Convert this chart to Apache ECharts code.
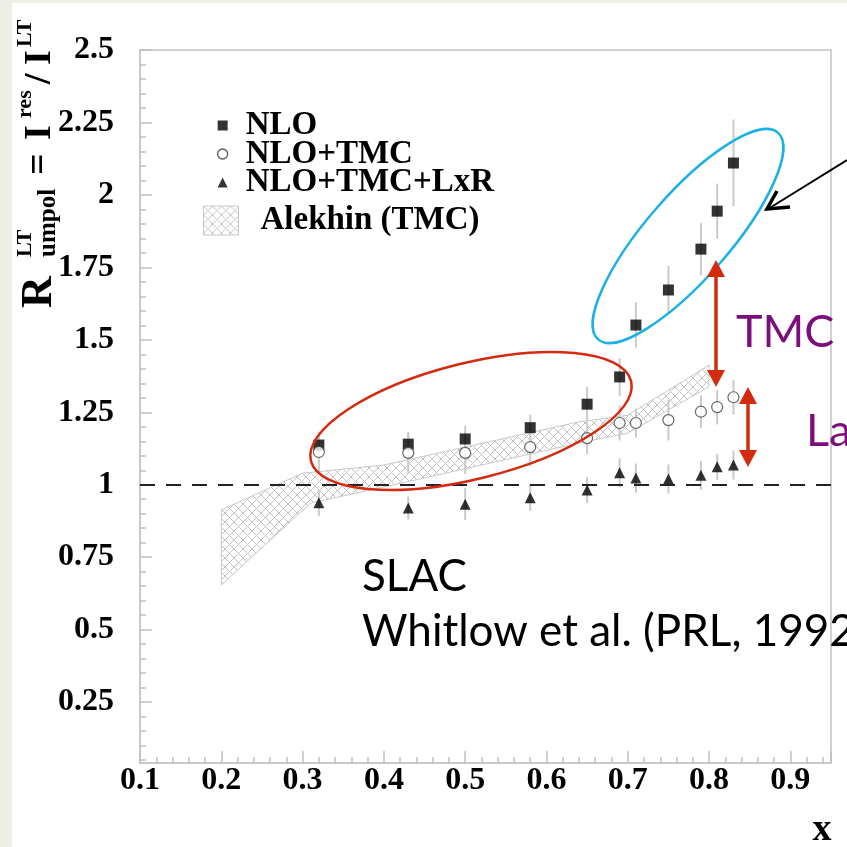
<!DOCTYPE html>
<html>
<head>
<meta charset="utf-8">
<script src="https://cdn.jsdelivr.net/npm/echarts@6/dist/echarts.min.js"></script>
<style>
  html, body { margin: 0; padding: 0; background: #efeee6; }
  #paper { position: absolute; left: 12px; top: 3px; width: 835px; height: 844px; background: #fff; }
  #chart { position: absolute; left: 0; top: 0; width: 847px; height: 847px; }
</style>
</head>
<body>
<div id="paper"></div>
<div id="chart"></div>
<script>
// x positions of the measurements
const xValues = [0.32, 0.43, 0.50, 0.58, 0.65, 0.69, 0.71, 0.75, 0.79, 0.81, 0.83];
// NLO (squares)
const nlo = [1.137, 1.14, 1.158, 1.197, 1.278, 1.372, 1.551, 1.672, 1.813, 1.944, 2.11];
const nloErr = [0.045, 0.04, 0.045, 0.045, 0.06, 0.065, 0.078, 0.083, 0.09, 0.095, 0.15];
// NLO+TMC (open circles)
const nloTmc = [1.113, 1.11, 1.11, 1.13, 1.161, 1.213, 1.213, 1.223, 1.252, 1.268, 1.302];
const tmcErr = [0.07, 0.073, 0.073, 0.065, 0.055, 0.06, 0.05, 0.07, 0.057, 0.06, 0.06];
// NLO+TMC+LxR (triangles)
const nloTmcLxr = [0.938, 0.92, 0.933, 0.955, 0.982, 1.041, 1.023, 1.02, 1.033, 1.062, 1.068];
const lxrErr = [0.045, 0.04, 0.055, 0.045, 0.045, 0.05, 0.05, 0.05, 0.05, 0.045, 0.05];
// Alekhin (TMC) band
const bandHighX = [0.2, 0.3, 0.4, 0.64, 0.7, 0.8];
const bandHigh = [0.913, 1.04, 1.068, 1.217, 1.24, 1.413];
const bandLowX = [0.2, 0.31, 0.4, 0.64, 0.7, 0.8];
const bandLow = [0.654, 0.937, 0.992, 1.144, 1.178, 1.338];
// axes
const yTicks = [0.25, 0.5, 0.75, 1, 1.25, 1.5, 1.75, 2, 2.25, 2.5];
const refLineY = 1;

const yMinorTicks = [];
for (let i = 1; i <= 50; i++) yMinorTicks.push(Math.round(i * 5) / 100);

// cross-hatch fill
const hatch = document.createElement('canvas');
hatch.width = 9;
hatch.height = 9;
const hc = hatch.getContext('2d');
hc.strokeStyle = '#c2c2c2';
hc.lineWidth = 1;
hc.beginPath();
hc.moveTo(0, 0); hc.lineTo(9, 9);
hc.moveTo(9, 0); hc.lineTo(0, 9);
hc.stroke();
const hatchFill = { image: hatch, repeat: 'repeat' };

const serif = '"Liberation Serif", "DejaVu Serif", serif';
const sans = 'Lato, "Open Sans", sans-serif';
const red = '#d42a10';
const purple = '#7c0e7c';

function errorBars(values, errs) {
  return {
    type: 'custom',
    silent: true,
    z: 1,
    encode: { x: 0, y: [1, 2] },
    data: xValues.map((x, i) => [x, values[i] - errs[i], values[i] + errs[i]]),
    renderItem: function (params, api) {
      const a = api.coord([api.value(0), api.value(1)]);
      const b = api.coord([api.value(0), api.value(2)]);
      return {
        type: 'line',
        shape: { x1: a[0], y1: a[1], x2: b[0], y2: b[1] },
        style: { stroke: '#cacaca', lineWidth: 2 }
      };
    }
  };
}

function titleText(x, y, text, size) {
  return { type: 'text', x: x, y: y, style: { text: text, font: 'bold ' + size + 'px ' + serif, fill: '#000', verticalAlign: 'middle' } };
}

const chart = echarts.init(document.getElementById('chart'));

const option = {
  backgroundColor: 'transparent',
  animation: false,
  grid: {
    left: 140, right: 16, top: 50, bottom: 84,
    containLabel: false,
    outerBoundsMode: 'none',
    show: true,
    borderColor: '#d0d0d0',
    borderWidth: 2
  },
  legend: [
    {
      left: 217, top: 109, orient: 'vertical', padding: 0,
      itemWidth: 10, itemHeight: 10, itemGap: -4.5,
      textStyle: { fontFamily: serif, fontWeight: 'bold', fontSize: 33, lineHeight: 33, color: '#000', padding: [0, 0, 0, 13] },
      data: [
        { name: 'NLO', icon: 'rect', itemStyle: { color: '#000' } },
        { name: 'NLO+TMC', icon: 'circle', itemStyle: { color: '#fff', borderColor: '#333', borderWidth: 1.3 } },
        { name: 'NLO+TMC+LxR', icon: 'triangle', itemStyle: { color: '#000' } }
      ]
    },
    {
      left: 203, top: 204, orient: 'vertical', padding: 0,
      itemWidth: 35, itemHeight: 29,
      textStyle: { fontFamily: serif, fontWeight: 'bold', fontSize: 33, color: '#000', padding: [0, 0, 0, 17] },
      data: [{ name: 'Alekhin (TMC)', icon: 'rect', itemStyle: { color: hatchFill, borderColor: '#c8c8c8', borderWidth: 1 } }]
    }
  ],
  xAxis: {
    type: 'value', min: 0.1, max: 0.95, interval: 0.1,
    name: 'x', nameLocation: 'end', nameGap: -9,
    nameTextStyle: { fontFamily: serif, fontWeight: 'bold', fontSize: 38, color: '#000', align: 'center', verticalAlign: 'top', padding: [48, 0, 0, 0] },
    axisLine: { show: true, lineStyle: { color: '#c8c8c8', width: 2 } },
    axisTick: { show: true, inside: true, length: 12, lineStyle: { color: '#c0c0c0', width: 1.5 } },
    minorTick: { show: true, splitNumber: 5, length: 6, lineStyle: { color: '#c0c0c0', width: 1.5 } },
    axisLabel: { margin: 2, showMaxLabel: false, fontFamily: serif, fontWeight: 'bold', fontSize: 32, color: '#000' },
    splitLine: { show: false }
  },
  yAxis: [
    {
      type: 'value', min: 0.04, max: 2.5,
      axisLine: { show: true, lineStyle: { color: '#c8c8c8', width: 2 } },
      axisTick: { show: true, inside: true, length: 12, customValues: yTicks, lineStyle: { color: '#c0c0c0', width: 1.5 } },
      axisLabel: { customValues: yTicks, margin: 26, fontFamily: serif, fontWeight: 'bold', fontSize: 32, color: '#000' },
      splitLine: { show: false }
    },
    {
      type: 'value', min: 0.04, max: 2.5, position: 'left',
      axisLine: { show: false },
      axisLabel: { show: false },
      splitLine: { show: false },
      axisTick: { show: true, inside: true, length: 6, customValues: yMinorTicks, lineStyle: { color: '#c0c0c0', width: 1.5 } }
    }
  ],
  series: [
    {
      name: 'Alekhin (TMC)',
      type: 'custom',
      z: 1,
      silent: true,
      itemStyle: { color: hatchFill, borderColor: '#c8c8c8', borderWidth: 1 },
      data: [[0.5, 1]],
      renderItem: function (params, api) {
        const pts = [];
        for (let i = 0; i < bandHighX.length; i++) pts.push(api.coord([bandHighX[i], bandHigh[i]]));
        for (let i = bandLowX.length - 1; i >= 0; i--) pts.push(api.coord([bandLowX[i], bandLow[i]]));
        return {
          type: 'polygon',
          shape: { points: pts },
          style: { fill: hatchFill, stroke: '#c8c8c8', lineWidth: 1 }
        };
      },
      markLine: {
        silent: true,
        symbol: 'none',
        label: { show: false },
        lineStyle: { type: [15, 11], color: '#222', width: 2 },
        data: [{ yAxis: refLineY }]
      }
    },
    errorBars(nlo, nloErr),
    errorBars(nloTmc, tmcErr),
    errorBars(nloTmcLxr, lxrErr),
    {
      name: 'NLO', type: 'scatter', symbol: 'rect', symbolSize: 11, z: 3,
      itemStyle: { color: '#000' },
      data: xValues.map((x, i) => [x, nlo[i]])
    },
    {
      name: 'NLO+TMC', type: 'scatter', symbol: 'circle', symbolSize: 11, z: 3,
      itemStyle: { color: '#fff', borderColor: '#444', borderWidth: 1.2 },
      data: xValues.map((x, i) => [x, nloTmc[i]])
    },
    {
      name: 'NLO+TMC+LxR', type: 'scatter', symbol: 'triangle', symbolSize: 11, z: 3,
      itemStyle: { color: '#000' },
      data: xValues.map((x, i) => [x, nloTmcLxr[i]])
    }
  ],
  graphic: [
    // y axis title, written along the rotated baseline
    {
      type: 'group', x: 40, y: 308, rotation: Math.PI / 2,
      children: [
        titleText(0, 0, 'R', 44),
        titleText(51, -15, 'LT', 22),
        titleText(51, 9, 'umpol', 25),
        titleText(133, 0, '=', 38),
        titleText(168, 0, 'I', 38),
        titleText(190, -15, 'res', 22),
        titleText(224, 0, '/', 38),
        titleText(243, 0, 'I', 38),
        titleText(261, -15, 'LT', 22)
      ]
    },
    // highlight ellipses
    { type: 'ellipse', x: 471, y: 421, rotation: 14 * Math.PI / 180, z: 100,
      shape: { cx: 0, cy: 0, rx: 165, ry: 58 }, style: { fill: 'none', stroke: red, lineWidth: 2.5 } },
    { type: 'ellipse', x: 688, y: 236, rotation: 49 * Math.PI / 180, z: 100,
      shape: { cx: 0, cy: 0, rx: 137, ry: 42 }, style: { fill: 'none', stroke: '#1cb0e8', lineWidth: 2.5 } },
    // black pointer
    { type: 'polyline', z: 100, shape: { points: [[847, 160], [768, 209]] }, style: { stroke: '#000', lineWidth: 2 } },
    { type: 'polyline', z: 100, shape: { points: [[777, 191], [767, 209], [790, 207]] }, style: { stroke: '#000', lineWidth: 3.5, fill: 'none' } },
    // TMC double arrow
    { type: 'line', z: 100, shape: { x1: 716, y1: 272, x2: 716, y2: 375 }, style: { stroke: red, lineWidth: 3.5 } },
    { type: 'polygon', z: 100, shape: { points: [[716, 260], [707, 277], [725, 277]] }, style: { fill: red } },
    { type: 'polygon', z: 100, shape: { points: [[716, 387], [707, 370], [725, 370]] }, style: { fill: red } },
    // second double arrow
    { type: 'line', z: 100, shape: { x1: 748, y1: 398, x2: 748, y2: 456 }, style: { stroke: red, lineWidth: 3.5 } },
    { type: 'polygon', z: 100, shape: { points: [[748, 387], [739, 404], [757, 404]] }, style: { fill: red } },
    { type: 'polygon', z: 100, shape: { points: [[748, 467], [739, 450], [757, 450]] }, style: { fill: red } },
    // annotation texts
    { type: 'text', z: 100, x: 736, y: 332, style: { text: 'TMC', font: '45px ' + sans, fill: purple, verticalAlign: 'middle' } },
    { type: 'text', z: 100, x: 806, y: 431, style: { text: 'La', font: '45px ' + sans, fill: purple, verticalAlign: 'middle' } },
    { type: 'text', z: 100, x: 362, y: 577, style: { text: 'SLAC', font: '44px ' + sans, fill: '#000', verticalAlign: 'middle' } },
    { type: 'text', z: 100, x: 362, y: 632, style: { text: 'Whitlow et al. (PRL, 1992)', font: '44px ' + sans, fill: '#000', verticalAlign: 'middle' } }
  ]
};

chart.setOption(option);
</script>
</body>
</html>
